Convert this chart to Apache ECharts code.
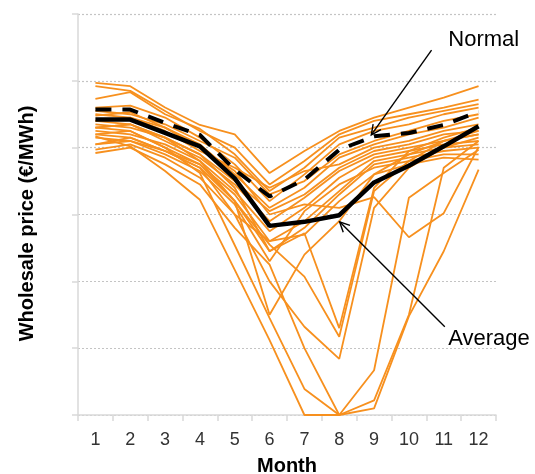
<!DOCTYPE html>
<html>
<head>
<meta charset="utf-8">
<script src="https://cdn.jsdelivr.net/npm/echarts@6/dist/echarts.min.js"></script>
<style>
  html, body { margin: 0; padding: 0; background: #ffffff; }
  #chart { width: 535px; height: 474px; }
</style>
</head>
<body>
<div id="chart"></div>
<script>
// Month categories on the x axis
const months = ['1', '2', '3', '4', '5', '6', '7', '8', '9', '10', '11', '12'];

// Average and normal-year wholesale price profiles
const averagePrice = [44.2, 44.2, 42.2, 40.2, 35.4, 28.3, 28.9, 29.9, 34.8, 37.3, 40.2, 43.2];
const normalPrice  = [45.7, 45.7, 43.7, 41.9, 36.7, 32.7, 35.2, 39.7, 41.7, 42.2, 43.4, 45.4];

// Individual inflow-year price profiles
const yearPrices = [
  [49.7, 49.2, 46.0, 43.4, 42.0, 36.2, 39.5, 42.5, 44.5, 46.0, 47.5, 49.2],
  [49.2, 48.5, 45.5, 42.5, 40.0, 34.5, 38.0, 42.0, 44.0, 45.0, 46.0, 47.2],
  [47.3, 48.3, 45.0, 42.8, 39.0, 33.5, 37.0, 41.5, 43.0, 44.5, 45.5, 46.5],
  [46.0, 46.3, 44.5, 41.5, 37.5, 32.0, 36.0, 40.5, 42.5, 43.5, 45.0, 46.0],
  [45.5, 45.0, 43.5, 41.0, 38.5, 33.0, 35.0, 39.0, 41.0, 42.5, 44.0, 45.0],
  [44.8, 45.3, 43.0, 40.5, 36.0, 31.0, 34.0, 38.5, 40.5, 42.0, 43.0, 44.5],
  [44.0, 44.5, 42.5, 39.5, 37.0, 34.0, 36.5, 37.5, 40.0, 41.0, 42.5, 43.5],
  [43.5, 43.0, 41.5, 39.0, 35.0, 30.5, 33.0, 37.0, 39.5, 40.5, 42.0, 42.5],
  [43.0, 43.5, 41.0, 38.5, 34.5, 29.0, 32.5, 36.5, 39.0, 40.0, 41.0, 42.0],
  [42.5, 42.0, 40.5, 38.0, 33.5, 27.5, 31.0, 35.5, 38.5, 39.5, 40.5, 41.0],
  [42.0, 42.5, 40.0, 37.5, 33.0, 26.0, 29.0, 33.5, 38.0, 39.0, 40.0, 40.5],
  [41.5, 41.0, 39.5, 37.0, 32.0, 24.5, 28.0, 33.0, 37.5, 38.5, 39.5, 40.0],
  [40.5, 41.0, 39.0, 36.5, 31.5, 23.0, 30.5, 34.5, 37.0, 38.0, 39.0, 39.0],
  [39.7, 40.5, 38.5, 35.5, 30.0, 26.0, 27.0, 32.0, 36.0, 37.5, 38.5, 38.2],
  [45.0, 44.5, 43.0, 40.0, 36.5, 30.0, 31.5, 31.0, 32.6, 26.6, 30.2, 40.1],
  [42.0, 41.5, 39.5, 37.5, 32.0, 15.0, 24.0, 29.0, 36.0, 39.0, 41.0, 42.0],
  [44.0, 43.5, 41.5, 39.0, 34.0, 24.5, 27.2, 13.0, 34.0, 39.5, 41.5, 43.0],
  [43.0, 43.5, 41.5, 38.0, 32.0, 25.5, 20.7, 11.7, 33.5, 38.0, 41.0, 42.5],
  [40.5, 41.5, 39.5, 37.0, 30.0, 20.0, 13.2, 8.4, 31.0, 37.0, 40.0, 41.5],
  [41.7, 40.2, 36.5, 32.2, 21.7, 11.2, 0.0, 0.0, 2.2, 15.0, 37.0, 41.0],
  [43.0, 42.5, 40.0, 36.2, 25.4, 14.5, 3.9, 0.0, 6.7, 32.5, 36.2, 39.7],
  [39.2, 40.0, 37.5, 34.5, 28.0, 22.5, 10.0, 0.0, 1.0, 14.8, 24.5, 36.7]
];

// Callouts: arrow tail, arrow tip and label anchor in (month, price) units
const callouts = [
  { text: 'Normal',  tail: [10.65, 54.6], tip: [8.92, 41.9], label: [11.13, 56.1] },
  { text: 'Average', tail: [11.03, 13.2], tip: [8.01, 28.9], label: [11.13, 11.4] }
];

const FONT = '"Liberation Sans", Arial, sans-serif';
const ORANGE = '#f7901e';

const series = yearPrices.map((vals, i) => ({
  name: 'year' + (i + 1),
  type: 'line',
  data: vals,
  symbol: 'none',
  silent: true,
  lineStyle: { color: ORANGE, width: 1.8 },
  z: 2
}));

series.push({
  name: 'Normal',
  type: 'line',
  data: normalPrice,
  symbol: 'none',
  silent: true,
  lineStyle: { color: '#000000', width: 4, type: [16, 11] },
  z: 5
});
series.push({
  name: 'Average',
  type: 'line',
  data: averagePrice,
  symbol: 'none',
  silent: true,
  lineStyle: { color: '#000000', width: 4.5 },
  z: 6
});
// empty series binding the continuous month axis used for callouts
series.push({ type: 'line', xAxisIndex: 1, data: [], silent: true });

const option = {
  animation: false,
  backgroundColor: '#ffffff',
  grid: { left: 78, right: 39, top: 14, bottom: 59, containLabel: false, outerBoundsMode: 'none' },
  xAxis: [
    {
      type: 'category',
      data: months,
      boundaryGap: true,
      name: 'Month',
      nameLocation: 'middle',
      nameGap: 41,
      nameTextStyle: { fontFamily: FONT, fontSize: 20, fontWeight: 'bold', color: '#000000' },
      axisLine: { show: true, lineStyle: { color: '#d9d9d9', width: 1.5 } },
      axisTick: { show: true, length: 6, lineStyle: { color: '#d9d9d9', width: 1.5 } },
      axisLabel: { fontFamily: FONT, fontSize: 18, color: '#333333', margin: 16 },
      splitLine: { show: false }
    },
    {
      type: 'value',
      min: 0.5,
      max: 12.5,
      show: false
    }
  ],
  yAxis: {
    type: 'value',
    min: 0,
    max: 60,
    interval: 10,
    name: 'Wholesale price (€/MWh)',
    nameLocation: 'middle',
    nameGap: 41,
    nameTextStyle: {
      fontFamily: FONT, fontSize: 20, fontWeight: 'bold', color: '#000000',
      padding: [0, 18, 0, 0]
    },
    axisLine: { show: true, lineStyle: { color: '#d9d9d9', width: 1.5 } },
    axisTick: { show: true, length: 6, lineStyle: { color: '#d9d9d9', width: 1.5 } },
    axisLabel: { show: false },
    splitLine: { show: true, lineStyle: { color: '#c4c4c4', width: 1.2, type: [2, 2] } }
  },
  series: series
};

const chart = echarts.init(document.getElementById('chart'), null, { renderer: 'canvas' });
chart.setOption(option);

// Arrows and labels placed through the chart's own coordinate conversion
function buildCallouts() {
  const finder = { xAxisIndex: 1, yAxisIndex: 0 };
  const elements = [];
  callouts.forEach((c) => {
    const t0 = chart.convertToPixel(finder, c.tail);
    const t1 = chart.convertToPixel(finder, c.tip);
    const ang = Math.atan2(t0[1] - t1[1], t0[0] - t1[0]);
    const len = 11, spread = 0.45;
    const h1 = [t1[0] + len * Math.cos(ang + spread), t1[1] + len * Math.sin(ang + spread)];
    const h2 = [t1[0] + len * Math.cos(ang - spread), t1[1] + len * Math.sin(ang - spread)];
    elements.push({
      type: 'line', silent: true, z: 100,
      shape: { x1: t0[0], y1: t0[1], x2: t1[0], y2: t1[1] },
      style: { stroke: '#000000', lineWidth: 1.4 }
    });
    elements.push({
      type: 'polyline', silent: true, z: 100,
      shape: { points: [h1, t1, h2] },
      style: { stroke: '#000000', lineWidth: 1.4, fill: null }
    });
    const lp = chart.convertToPixel(finder, c.label);
    elements.push({
      type: 'text', silent: true, z: 100,
      x: lp[0], y: lp[1],
      style: {
        text: c.text,
        font: '22px ' + FONT,
        fill: '#000000',
        align: 'left', verticalAlign: 'middle',
        textAlign: 'left', textVerticalAlign: 'middle'
      }
    });
  });
  chart.setOption({ graphic: { elements: elements } });
}
buildCallouts();
</script>
</body>
</html>
